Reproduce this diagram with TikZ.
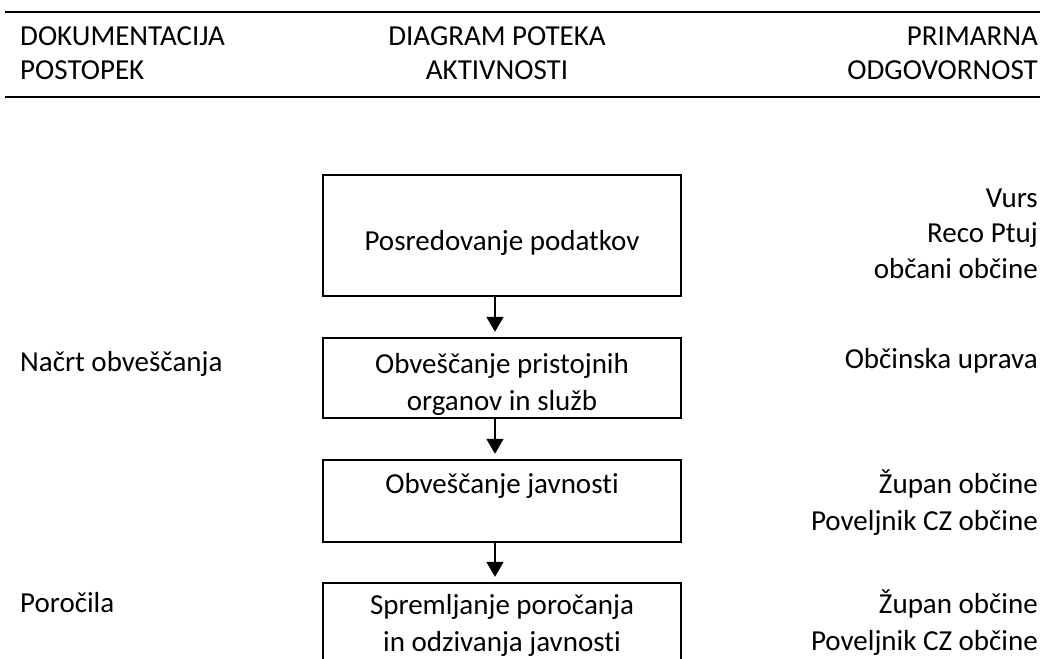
\documentclass[tikz,border=0pt]{standalone}
\usepackage{fontspec}
\setmainfont{Carlito}[Ligatures=CommonOff]
\usetikzlibrary{arrows.meta}
\newcommand{\bodyfs}{\fontsize{29}{37}\selectfont}
\newcommand{\headfs}{\fontsize{29}{34}\selectfont}
\newcommand{\respfs}{\fontsize{29}{35.5}\selectfont}
\begin{document}
\begin{tikzpicture}[x=1pt,y=-1pt,
  box/.style={draw, line width=2.4pt, minimum width=358pt, inner sep=0pt},
  txt/.style={font=\bodyfs, inner sep=0pt},
  head/.style={font=\headfs, inner sep=0pt},
  arr/.style={line width=1.8pt, -{Triangle[width=17pt,length=15pt]}, shorten >=5pt},
  rulel/.style={line width=2.5pt}]
\useasboundingbox (0,0) rectangle (1045,659);
\clip (0,0) rectangle (1045,659);
% header (multi-line nodes: base = last line)
\draw[rulel] (5,12) -- (1040,12);
\draw[rulel] (5,97) -- (1040,97);
\node[head, anchor=base west, align=left] (h1) at (20,79) {DOKUMENTACIJA\\POSTOPEK};
\node[head, anchor=base, align=center] (h2) at (497,79) {DIAGRAM POTEKA\\AKTIVNOSTI};
\node[head, anchor=base east, align=right] (h3) at (1038,79) {PRIMARNA\\ODGOVORNOST};
% boxes
\node[box, minimum height=121pt] (b1) at (502,235.5) {};
\node[box, minimum height=80pt] (b2) at (502,378) {};
\node[box, minimum height=82pt] (b3) at (502,501) {};
\node[box, minimum height=86pt] (b4) at (502,626) {};
% box texts
\node[txt, anchor=base] (t1) at (502,250) {Posredovanje podatkov};
\node[txt, anchor=base, align=center] (t2) at (502,410) {Obveščanje pristojnih\\organov in služb};
\node[txt, anchor=base] (t3) at (502,493) {Obveščanje javnosti};
\node[txt, anchor=base, align=center] (t4) at (502,651) {Spremljanje poročanja\\in odzivanja javnosti};
% arrows
\coordinate (ax) at (495,0);
\draw[arr] (b1.south -| ax) -- (b2.north -| ax);
\draw[arr] (b2.south -| ax) -- (b3.north -| ax);
\draw[arr] (b3.south -| ax) -- (b4.north -| ax);
% left column
\node[txt, anchor=base west] (l1) at (20,371) {Načrt obveščanja};
\node[txt, anchor=base west] (l2) at (20,612) {Poročila};
% right column
\node[txt, anchor=base east, align=right, font=\respfs] (r1) at (1038,278) {Vurs\\Reco Ptuj\\občani občine};
\node[txt, anchor=base east] (r2) at (1038,368) {Občinska uprava};
\node[txt, anchor=base east, align=right] (r3) at (1038,530) {Župan občine\\Poveljnik CZ občine};
\node[txt, anchor=base east, align=right] (r4) at (1038,650) {Župan občine\\Poveljnik CZ občine};
\end{tikzpicture}
\end{document}
